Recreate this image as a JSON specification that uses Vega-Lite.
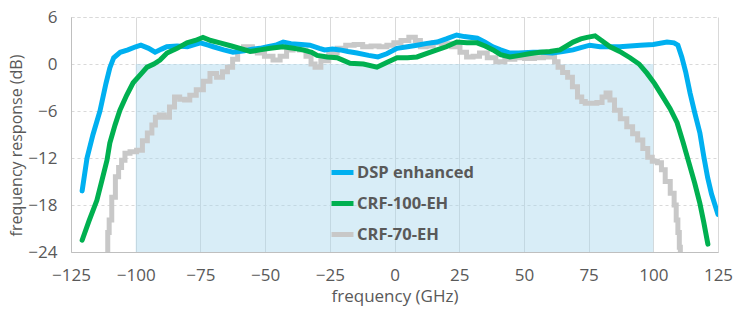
{
  "$schema": "https://vega.github.io/schema/vega-lite/v6.json",
  "width": 647,
  "height": 235,
  "autosize": {"type": "none"},
  "padding": {"left": 71, "top": 17, "right": 34, "bottom": 80},
  "background": "white",
  "config": {
    "font": "Open Sans",
    "view": {"stroke": "#D9D9D9", "strokeDash": [3, 3], "strokeWidth": 1},
    "axis": {
      "labelFont": "Open Sans",
      "titleFont": "Open Sans",
      "labelColor": "#595959",
      "titleColor": "#595959",
      "labelFontSize": 17,
      "titleFontSize": 17,
      "titleFontWeight": "normal",
      "domainColor": "#BFBFBF",
      "gridColor": "#D9D9D9",
      "ticks": false
    }
  },
  "datasets": {
    "band": [{"x0": -100, "x1": 100, "y0": -24, "y1": 0}],
    "series": [
      {"s": "DSP enhanced", "f": -120.7, "r": -16.2},
      {"s": "DSP enhanced", "f": -118.8, "r": -12},
      {"s": "DSP enhanced", "f": -116.5, "r": -9},
      {"s": "DSP enhanced", "f": -113.8, "r": -6},
      {"s": "DSP enhanced", "f": -111.5, "r": -2.5},
      {"s": "DSP enhanced", "f": -110, "r": -0.5},
      {"s": "DSP enhanced", "f": -108.5, "r": 0.8},
      {"s": "DSP enhanced", "f": -106, "r": 1.5},
      {"s": "DSP enhanced", "f": -103, "r": 1.8},
      {"s": "DSP enhanced", "f": -100, "r": 2.2},
      {"s": "DSP enhanced", "f": -98, "r": 2.4},
      {"s": "DSP enhanced", "f": -95, "r": 2.0},
      {"s": "DSP enhanced", "f": -92.5, "r": 1.5},
      {"s": "DSP enhanced", "f": -90, "r": 1.9},
      {"s": "DSP enhanced", "f": -88, "r": 2.2},
      {"s": "DSP enhanced", "f": -84, "r": 2.3},
      {"s": "DSP enhanced", "f": -80, "r": 2.2},
      {"s": "DSP enhanced", "f": -77, "r": 2.5},
      {"s": "DSP enhanced", "f": -75, "r": 2.7},
      {"s": "DSP enhanced", "f": -72, "r": 2.4},
      {"s": "DSP enhanced", "f": -70, "r": 2.2},
      {"s": "DSP enhanced", "f": -66, "r": 1.8},
      {"s": "DSP enhanced", "f": -62.4, "r": 1.5},
      {"s": "DSP enhanced", "f": -58, "r": 1.7},
      {"s": "DSP enhanced", "f": -55, "r": 1.9},
      {"s": "DSP enhanced", "f": -52, "r": 2.0},
      {"s": "DSP enhanced", "f": -49, "r": 2.2},
      {"s": "DSP enhanced", "f": -46, "r": 2.4},
      {"s": "DSP enhanced", "f": -43, "r": 2.8},
      {"s": "DSP enhanced", "f": -40, "r": 2.6},
      {"s": "DSP enhanced", "f": -36, "r": 2.5},
      {"s": "DSP enhanced", "f": -32.7, "r": 2.4},
      {"s": "DSP enhanced", "f": -29, "r": 2.0},
      {"s": "DSP enhanced", "f": -27, "r": 1.8},
      {"s": "DSP enhanced", "f": -24, "r": 1.9},
      {"s": "DSP enhanced", "f": -21, "r": 1.8},
      {"s": "DSP enhanced", "f": -18, "r": 1.6},
      {"s": "DSP enhanced", "f": -14.5, "r": 1.4},
      {"s": "DSP enhanced", "f": -10, "r": 1.1},
      {"s": "DSP enhanced", "f": -6.4, "r": 0.9},
      {"s": "DSP enhanced", "f": -3, "r": 1.3},
      {"s": "DSP enhanced", "f": 1, "r": 2.0},
      {"s": "DSP enhanced", "f": 5, "r": 2.2},
      {"s": "DSP enhanced", "f": 8.7, "r": 2.4},
      {"s": "DSP enhanced", "f": 12, "r": 2.6},
      {"s": "DSP enhanced", "f": 16.4, "r": 2.8},
      {"s": "DSP enhanced", "f": 20, "r": 3.2},
      {"s": "DSP enhanced", "f": 24, "r": 3.7},
      {"s": "DSP enhanced", "f": 27, "r": 3.5},
      {"s": "DSP enhanced", "f": 32, "r": 3.3},
      {"s": "DSP enhanced", "f": 35, "r": 2.8},
      {"s": "DSP enhanced", "f": 38, "r": 2.2},
      {"s": "DSP enhanced", "f": 41, "r": 1.8},
      {"s": "DSP enhanced", "f": 44.6, "r": 1.4},
      {"s": "DSP enhanced", "f": 48, "r": 1.4},
      {"s": "DSP enhanced", "f": 53.5, "r": 1.5},
      {"s": "DSP enhanced", "f": 57, "r": 1.5},
      {"s": "DSP enhanced", "f": 61, "r": 1.4},
      {"s": "DSP enhanced", "f": 65, "r": 1.6},
      {"s": "DSP enhanced", "f": 69, "r": 1.8},
      {"s": "DSP enhanced", "f": 72, "r": 2.1},
      {"s": "DSP enhanced", "f": 75.5, "r": 2.4},
      {"s": "DSP enhanced", "f": 79.4, "r": 2.2},
      {"s": "DSP enhanced", "f": 83, "r": 2.2},
      {"s": "DSP enhanced", "f": 87, "r": 2.2},
      {"s": "DSP enhanced", "f": 91, "r": 2.3},
      {"s": "DSP enhanced", "f": 95, "r": 2.4},
      {"s": "DSP enhanced", "f": 100, "r": 2.5},
      {"s": "DSP enhanced", "f": 105.3, "r": 2.8},
      {"s": "DSP enhanced", "f": 108, "r": 2.7},
      {"s": "DSP enhanced", "f": 109.5, "r": 2.4},
      {"s": "DSP enhanced", "f": 111, "r": 0.9},
      {"s": "DSP enhanced", "f": 112.5, "r": -1},
      {"s": "DSP enhanced", "f": 114.2, "r": -3.7},
      {"s": "DSP enhanced", "f": 116, "r": -6.2},
      {"s": "DSP enhanced", "f": 118, "r": -8.8},
      {"s": "DSP enhanced", "f": 119.5, "r": -11.8},
      {"s": "DSP enhanced", "f": 121, "r": -14.5},
      {"s": "DSP enhanced", "f": 122.5, "r": -16.6},
      {"s": "DSP enhanced", "f": 125, "r": -19.2},

      {"s": "CRF-100-EH", "f": -120.7, "r": -22.5},
      {"s": "CRF-100-EH", "f": -118, "r": -20},
      {"s": "CRF-100-EH", "f": -115, "r": -17.4},
      {"s": "CRF-100-EH", "f": -113, "r": -14.8},
      {"s": "CRF-100-EH", "f": -111.1, "r": -12.3},
      {"s": "CRF-100-EH", "f": -110, "r": -10.1},
      {"s": "CRF-100-EH", "f": -108, "r": -7.8},
      {"s": "CRF-100-EH", "f": -106.1, "r": -5.9},
      {"s": "CRF-100-EH", "f": -103.5, "r": -4.0},
      {"s": "CRF-100-EH", "f": -101, "r": -2.4},
      {"s": "CRF-100-EH", "f": -98, "r": -1.3},
      {"s": "CRF-100-EH", "f": -95.6, "r": -0.4},
      {"s": "CRF-100-EH", "f": -93, "r": 0},
      {"s": "CRF-100-EH", "f": -90.6, "r": 0.5},
      {"s": "CRF-100-EH", "f": -87.9, "r": 1.4},
      {"s": "CRF-100-EH", "f": -84, "r": 2.0},
      {"s": "CRF-100-EH", "f": -80.2, "r": 2.7},
      {"s": "CRF-100-EH", "f": -77, "r": 3.0},
      {"s": "CRF-100-EH", "f": -74, "r": 3.4},
      {"s": "CRF-100-EH", "f": -71, "r": 3.0},
      {"s": "CRF-100-EH", "f": -67.4, "r": 2.7},
      {"s": "CRF-100-EH", "f": -63, "r": 2.3},
      {"s": "CRF-100-EH", "f": -59.7, "r": 2.0},
      {"s": "CRF-100-EH", "f": -55.8, "r": 1.6},
      {"s": "CRF-100-EH", "f": -52, "r": 1.8},
      {"s": "CRF-100-EH", "f": -48, "r": 2.0},
      {"s": "CRF-100-EH", "f": -43.1, "r": 2.2},
      {"s": "CRF-100-EH", "f": -39, "r": 2.0},
      {"s": "CRF-100-EH", "f": -35.4, "r": 1.8},
      {"s": "CRF-100-EH", "f": -32, "r": 1.5},
      {"s": "CRF-100-EH", "f": -29.9, "r": 1.1},
      {"s": "CRF-100-EH", "f": -26, "r": 0.9},
      {"s": "CRF-100-EH", "f": -22.2, "r": 0.8},
      {"s": "CRF-100-EH", "f": -20, "r": 0.5},
      {"s": "CRF-100-EH", "f": -17.2, "r": 0.1},
      {"s": "CRF-100-EH", "f": -12, "r": 0},
      {"s": "CRF-100-EH", "f": -6.8, "r": -0.4},
      {"s": "CRF-100-EH", "f": -3, "r": 0.2},
      {"s": "CRF-100-EH", "f": 1, "r": 0.8},
      {"s": "CRF-100-EH", "f": 5, "r": 0.8},
      {"s": "CRF-100-EH", "f": 8.7, "r": 0.9},
      {"s": "CRF-100-EH", "f": 12, "r": 1.3},
      {"s": "CRF-100-EH", "f": 16.4, "r": 1.8},
      {"s": "CRF-100-EH", "f": 20, "r": 2.2},
      {"s": "CRF-100-EH", "f": 24.1, "r": 2.8},
      {"s": "CRF-100-EH", "f": 28, "r": 2.7},
      {"s": "CRF-100-EH", "f": 31.9, "r": 2.7},
      {"s": "CRF-100-EH", "f": 35, "r": 2.3},
      {"s": "CRF-100-EH", "f": 38.1, "r": 1.8},
      {"s": "CRF-100-EH", "f": 41, "r": 1.2},
      {"s": "CRF-100-EH", "f": 44.6, "r": 0.9},
      {"s": "CRF-100-EH", "f": 48.5, "r": 1.1},
      {"s": "CRF-100-EH", "f": 52, "r": 1.3},
      {"s": "CRF-100-EH", "f": 56.2, "r": 1.5},
      {"s": "CRF-100-EH", "f": 60, "r": 1.6},
      {"s": "CRF-100-EH", "f": 63.9, "r": 1.8},
      {"s": "CRF-100-EH", "f": 66.5, "r": 2.3},
      {"s": "CRF-100-EH", "f": 69, "r": 2.8},
      {"s": "CRF-100-EH", "f": 72, "r": 3.2},
      {"s": "CRF-100-EH", "f": 74.4, "r": 3.4},
      {"s": "CRF-100-EH", "f": 77.5, "r": 3.6},
      {"s": "CRF-100-EH", "f": 80, "r": 3.0},
      {"s": "CRF-100-EH", "f": 83.3, "r": 2.2},
      {"s": "CRF-100-EH", "f": 87, "r": 1.6},
      {"s": "CRF-100-EH", "f": 91, "r": 0.8},
      {"s": "CRF-100-EH", "f": 94.5, "r": 0},
      {"s": "CRF-100-EH", "f": 97.6, "r": -1.2},
      {"s": "CRF-100-EH", "f": 100.5, "r": -2.5},
      {"s": "CRF-100-EH", "f": 103.7, "r": -4.2},
      {"s": "CRF-100-EH", "f": 106.5, "r": -5.7},
      {"s": "CRF-100-EH", "f": 109.2, "r": -7.5},
      {"s": "CRF-100-EH", "f": 111.5, "r": -10},
      {"s": "CRF-100-EH", "f": 113.5, "r": -12.3},
      {"s": "CRF-100-EH", "f": 116, "r": -15.2},
      {"s": "CRF-100-EH", "f": 118, "r": -17.8},
      {"s": "CRF-100-EH", "f": 119.5, "r": -20.2},
      {"s": "CRF-100-EH", "f": 121.1, "r": -23.0},

      {"s": "CRF-70-EH", "f": -111.1, "r": -24.5},
      {"s": "CRF-70-EH", "f": -110.5, "r": -21.5},
      {"s": "CRF-70-EH", "f": -110, "r": -19.9},
      {"s": "CRF-70-EH", "f": -108.5, "r": -17},
      {"s": "CRF-70-EH", "f": -107.2, "r": -14.4},
      {"s": "CRF-70-EH", "f": -106, "r": -13.2},
      {"s": "CRF-70-EH", "f": -104.9, "r": -12.3},
      {"s": "CRF-70-EH", "f": -103.4, "r": -11.4},
      {"s": "CRF-70-EH", "f": -101, "r": -11.2},
      {"s": "CRF-70-EH", "f": -98.3, "r": -11.0},
      {"s": "CRF-70-EH", "f": -96.5, "r": -9.8},
      {"s": "CRF-70-EH", "f": -94.5, "r": -8.8},
      {"s": "CRF-70-EH", "f": -93, "r": -7.8},
      {"s": "CRF-70-EH", "f": -91.8, "r": -6.8},
      {"s": "CRF-70-EH", "f": -90, "r": -6.5},
      {"s": "CRF-70-EH", "f": -87.9, "r": -6.8},
      {"s": "CRF-70-EH", "f": -86, "r": -5.5},
      {"s": "CRF-70-EH", "f": -84, "r": -4.2},
      {"s": "CRF-70-EH", "f": -82, "r": -4.5},
      {"s": "CRF-70-EH", "f": -80.2, "r": -4.6},
      {"s": "CRF-70-EH", "f": -78, "r": -4.0},
      {"s": "CRF-70-EH", "f": -75.2, "r": -3.3},
      {"s": "CRF-70-EH", "f": -72.5, "r": -2.2},
      {"s": "CRF-70-EH", "f": -70.1, "r": -1.2},
      {"s": "CRF-70-EH", "f": -67.4, "r": -1.7},
      {"s": "CRF-70-EH", "f": -65.5, "r": -1.0},
      {"s": "CRF-70-EH", "f": -63.6, "r": -0.4},
      {"s": "CRF-70-EH", "f": -61.5, "r": 0.6},
      {"s": "CRF-70-EH", "f": -59.7, "r": 1.8},
      {"s": "CRF-70-EH", "f": -57, "r": 2.2},
      {"s": "CRF-70-EH", "f": -55.8, "r": 2.2},
      {"s": "CRF-70-EH", "f": -54, "r": 1.6},
      {"s": "CRF-70-EH", "f": -52, "r": 1.4},
      {"s": "CRF-70-EH", "f": -48.5, "r": 1.0},
      {"s": "CRF-70-EH", "f": -45.4, "r": 0.5},
      {"s": "CRF-70-EH", "f": -43, "r": 1.0},
      {"s": "CRF-70-EH", "f": -40.4, "r": 1.8},
      {"s": "CRF-70-EH", "f": -38, "r": 2.0},
      {"s": "CRF-70-EH", "f": -35.4, "r": 1.8},
      {"s": "CRF-70-EH", "f": -33, "r": 1.0},
      {"s": "CRF-70-EH", "f": -31.5, "r": 0.0},
      {"s": "CRF-70-EH", "f": -29.9, "r": -0.4},
      {"s": "CRF-70-EH", "f": -27, "r": 0.4},
      {"s": "CRF-70-EH", "f": -23.8, "r": 1.4},
      {"s": "CRF-70-EH", "f": -20.5, "r": 2.0},
      {"s": "CRF-70-EH", "f": -17.2, "r": 2.4},
      {"s": "CRF-70-EH", "f": -14, "r": 2.5},
      {"s": "CRF-70-EH", "f": -10.6, "r": 2.2},
      {"s": "CRF-70-EH", "f": -7.5, "r": 2.3},
      {"s": "CRF-70-EH", "f": -4.4, "r": 2.2},
      {"s": "CRF-70-EH", "f": -1.5, "r": 2.4},
      {"s": "CRF-70-EH", "f": 1.0, "r": 2.7},
      {"s": "CRF-70-EH", "f": 4, "r": 3.0},
      {"s": "CRF-70-EH", "f": 7.1, "r": 3.4},
      {"s": "CRF-70-EH", "f": 9, "r": 3.0},
      {"s": "CRF-70-EH", "f": 11.0, "r": 2.2},
      {"s": "CRF-70-EH", "f": 13.5, "r": 2.3},
      {"s": "CRF-70-EH", "f": 16.4, "r": 2.7},
      {"s": "CRF-70-EH", "f": 20, "r": 2.6},
      {"s": "CRF-70-EH", "f": 24.1, "r": 2.2},
      {"s": "CRF-70-EH", "f": 26.5, "r": 1.5},
      {"s": "CRF-70-EH", "f": 29.2, "r": 0.9},
      {"s": "CRF-70-EH", "f": 31.5, "r": 1.0},
      {"s": "CRF-70-EH", "f": 34.2, "r": 1.4},
      {"s": "CRF-70-EH", "f": 37.5, "r": 0.8},
      {"s": "CRF-70-EH", "f": 40.8, "r": 0.3},
      {"s": "CRF-70-EH", "f": 44.5, "r": 0.6},
      {"s": "CRF-70-EH", "f": 48.5, "r": 0.8},
      {"s": "CRF-70-EH", "f": 52, "r": 0.7},
      {"s": "CRF-70-EH", "f": 56.2, "r": 0.8},
      {"s": "CRF-70-EH", "f": 59, "r": 0.9},
      {"s": "CRF-70-EH", "f": 61.2, "r": 0.9},
      {"s": "CRF-70-EH", "f": 62.5, "r": 0.3},
      {"s": "CRF-70-EH", "f": 63.9, "r": -0.4},
      {"s": "CRF-70-EH", "f": 66, "r": -1.1},
      {"s": "CRF-70-EH", "f": 67.8, "r": -1.7},
      {"s": "CRF-70-EH", "f": 69.7, "r": -2.9},
      {"s": "CRF-70-EH", "f": 71.7, "r": -4.2},
      {"s": "CRF-70-EH", "f": 73, "r": -4.8},
      {"s": "CRF-70-EH", "f": 74.4, "r": -5.0},
      {"s": "CRF-70-EH", "f": 77, "r": -5.0},
      {"s": "CRF-70-EH", "f": 79.4, "r": -4.9},
      {"s": "CRF-70-EH", "f": 81, "r": -4.2},
      {"s": "CRF-70-EH", "f": 82.5, "r": -3.7},
      {"s": "CRF-70-EH", "f": 84, "r": -4.6},
      {"s": "CRF-70-EH", "f": 86.0, "r": -5.9},
      {"s": "CRF-70-EH", "f": 88.5, "r": -7.0},
      {"s": "CRF-70-EH", "f": 91.0, "r": -8.0},
      {"s": "CRF-70-EH", "f": 93, "r": -8.9},
      {"s": "CRF-70-EH", "f": 94.9, "r": -9.7},
      {"s": "CRF-70-EH", "f": 97, "r": -10.8},
      {"s": "CRF-70-EH", "f": 98.7, "r": -11.9},
      {"s": "CRF-70-EH", "f": 100.5, "r": -12.4},
      {"s": "CRF-70-EH", "f": 102.6, "r": -12.6},
      {"s": "CRF-70-EH", "f": 103.7, "r": -13.5},
      {"s": "CRF-70-EH", "f": 105.5, "r": -15},
      {"s": "CRF-70-EH", "f": 107.6, "r": -16.5},
      {"s": "CRF-70-EH", "f": 108.5, "r": -18},
      {"s": "CRF-70-EH", "f": 109.2, "r": -19.9},
      {"s": "CRF-70-EH", "f": 109.8, "r": -21.5},
      {"s": "CRF-70-EH", "f": 110.3, "r": -23.4},
      {"s": "CRF-70-EH", "f": 110.6, "r": -24.5},
      {"s": "CRF-70-EH", "f": 112, "r": -24.5}
    ]
  },
  "layer": [
    {
      "data": {"name": "band"},
      "mark": {"type": "rect", "color": "#A8D8EE", "opacity": 0.45},
      "encoding": {
        "x": {"field": "x0", "type": "quantitative", "scale": {"domain": [-125, 125], "nice": false},
          "axis": {"title": "frequency (GHz)", "values": [-125, -100, -75, -50, -25, 0, 25, 50, 75, 100, 125], "labelPadding": 15, "titlePadding": 5, "gridDash": [], "labelFlush": false}},
        "x2": {"field": "x1"},
        "y": {"field": "y0", "type": "quantitative", "scale": {"domain": [-24, 6], "nice": false},
          "axis": {"title": "frequency response (dB)", "titleFontSize": 16, "titleY": 128, "values": [-24, -18, -12, -6, 0, 6], "labelPadding": 14, "titlePadding": 3, "gridDash": [3, 3], "labelFlush": false}},
        "y2": {"field": "y1"}
      }
    },
    {
      "data": {"name": "series"},
      "transform": [{"filter": "datum.s === 'CRF-70-EH'"}],
      "mark": {"type": "line", "strokeWidth": 5, "interpolate": "step", "clip": true},
      "encoding": {
        "x": {"field": "f", "type": "quantitative"},
        "y": {"field": "r", "type": "quantitative"},
        "color": {"field": "s", "type": "nominal",
          "scale": {"domain": ["DSP enhanced", "CRF-100-EH", "CRF-70-EH"], "range": ["#00B0F0", "#00B050", "#C8C8C8"]},
          "legend": {"title": null, "orient": "none", "legendX": 258, "legendY": 142, "symbolType": "stroke", "symbolSize": 484, "symbolStrokeWidth": 5, "labelFont": "Open Sans", "labelFontSize": 16.5, "labelFontWeight": "bold", "labelColor": "#595959", "labelOffset": 1, "rowPadding": 7, "padding": 0}}
      }
    },
    {
      "data": {"name": "series"},
      "transform": [{"filter": "datum.s === 'DSP enhanced'"}],
      "mark": {"type": "line", "strokeWidth": 5, "strokeCap": "round", "clip": true},
      "encoding": {
        "x": {"field": "f", "type": "quantitative"},
        "y": {"field": "r", "type": "quantitative"},
        "color": {"field": "s", "type": "nominal"}
      }
    },
    {
      "data": {"name": "series"},
      "transform": [{"filter": "datum.s === 'CRF-100-EH'"}],
      "mark": {"type": "line", "strokeWidth": 5, "strokeCap": "round", "clip": true},
      "encoding": {
        "x": {"field": "f", "type": "quantitative"},
        "y": {"field": "r", "type": "quantitative"},
        "color": {"field": "s", "type": "nominal"}
      }
    }
  ]
}
